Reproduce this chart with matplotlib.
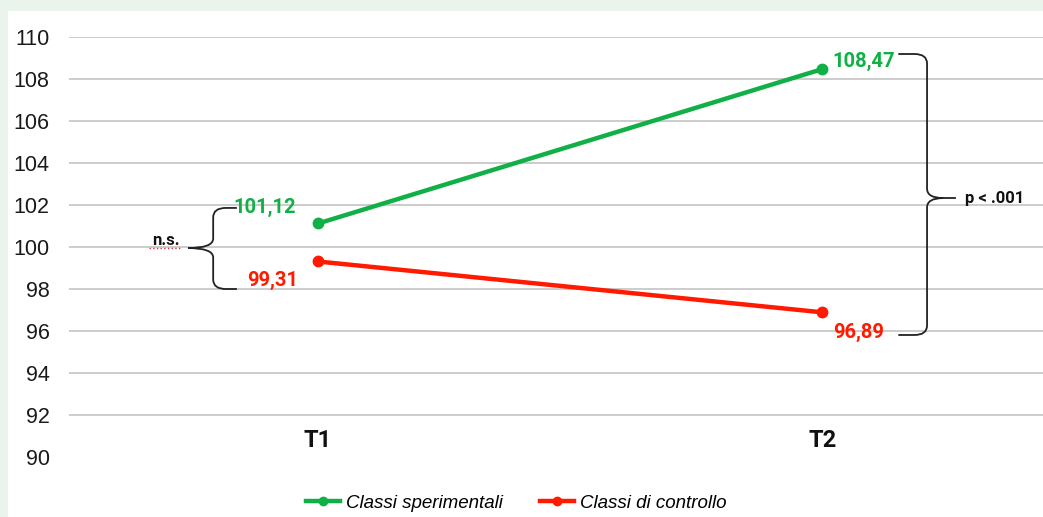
import matplotlib.pyplot as plt
from matplotlib.path import Path
from matplotlib.patches import PathPatch, Rectangle
from matplotlib.lines import Line2D

# data
times = ['T1', 'T2']
sperimentali = [101.12, 108.47]
controllo = [99.31, 96.89]
yticks = list(range(90, 111, 2))

green = '#10b046'
red = '#ff1a00'

fig = plt.figure(figsize=(10.43, 5.17), dpi=100)
fig.patch.set_facecolor('#eaf3ec')
fig.patches.append(Rectangle((8 / 1043, 0), 1, 1 - 11 / 517, transform=fig.transFigure,
                             facecolor='white', edgecolor='none', zorder=-10))

ax = fig.add_axes([69 / 1043, 60 / 517, 1 - 69 / 1043, 420 / 517])
ax.set_facecolor('none')
ax.set_xlim(-0.494, 1.438)
ax.set_ylim(90, 110)
for s in ax.spines.values():
    s.set_visible(False)
ax.set_yticks(yticks)
ax.set_yticklabels([str(v) for v in yticks], fontsize=15.5, family='Liberation Sans', color='#1a1a1a')
ax.tick_params(axis='y', length=0, pad=14)
ax.set_xticks([])
ax.hlines(yticks[1:], -0.494, 1.438, color='#cccccc', lw=1.4, zorder=1)

x = list(range(len(times)))
ax.plot(x, sperimentali, color=green, lw=3.2, marker='o', ms=7.5, zorder=3, clip_on=False)
ax.plot(x, controllo, color=red, lw=3.2, marker='o', ms=7.5, zorder=3, clip_on=False)

for i, t in enumerate(times):
    ax.text(i, 90.8, t, ha='center', va='center', fontsize=17, fontweight='bold',
            family='Roboto', color='#111111')

lab = dict(fontsize=14.5, fontweight='bold', family='Roboto', textcoords='offset pixels')
ax.annotate('101,12', (0, sperimentali[0]), xytext=(-22, 16), ha='right', va='center', color=green, **lab)
ax.annotate('99,31', (0, controllo[0]), xytext=(-20, -19), ha='right', va='center', color=red, **lab)
ax.annotate('108,47', (1, sperimentali[1]), xytext=(10, 8), ha='left', va='center', color=green, **lab)
ax.annotate('96,89', (1, controllo[1]), xytext=(11, -20), ha='left', va='center', color=red, **lab)


def brace(xv, xarm, xtip, ytop, ybot, ymid, rx, ry):
    # curly brace; xarm side is where the arms point, xtip is the middle point
    d = 1 if xarm > xv else -1
    verts = [(xarm, ytop), (xv + d * rx, ytop), (xv, ytop), (xv, ytop - ry),
             (xv, ymid + ry), (xv, ymid), (xtip, ymid),
             (xv, ymid), (xv, ymid - ry),
             (xv, ybot + ry), (xv, ybot), (xv + d * rx, ybot), (xarm, ybot)]
    codes = [Path.MOVETO, Path.LINETO, Path.CURVE3, Path.CURVE3,
             Path.LINETO, Path.CURVE3, Path.CURVE3,
             Path.CURVE3, Path.CURVE3,
             Path.LINETO, Path.CURVE3, Path.CURVE3, Path.LINETO]
    ax.add_patch(PathPatch(Path(verts, codes), fill=False, lw=1.3, color='#222222',
                           clip_on=False, zorder=4))


brace(-0.208, -0.161, -0.258, 101.86, 98.0, 99.95, 0.025, 0.45)
brace(1.208, 1.151, 1.240, 109.19, 95.81, 102.33, 0.025, 0.45)
ax.plot([1.240, 1.264], [102.33, 102.33], color='#222222', lw=1.3, clip_on=False, zorder=4)

ax.text(-0.274, 100.3, 'n.s.', ha='right', va='center', fontsize=12, fontweight='bold',
        family='Roboto', color='#111111')
ax.plot([-0.335, -0.274], [99.95, 99.95], color='#e03030', lw=1, ls=':', zorder=4)
ax.text(1.284, 102.33, 'p < .001', ha='left', va='center', fontsize=12, fontweight='bold',
        family='Roboto', color='#111111')

handles = [Line2D([], [], color=green, lw=3.2, marker='o', ms=6),
           Line2D([], [], color=red, lw=3.2, marker='o', ms=6)]
fig.legend(handles, ['Classi sperimentali', 'Classi di controllo'], loc='center',
           bbox_to_anchor=(0.495, 0.027), ncol=2, frameon=False, handlelength=1.8,
           handletextpad=0.3, columnspacing=2.0,
           prop={'family': 'Liberation Sans', 'style': 'italic', 'size': 13.5})

fig.savefig('out.png', dpi=100, facecolor=fig.get_facecolor())
